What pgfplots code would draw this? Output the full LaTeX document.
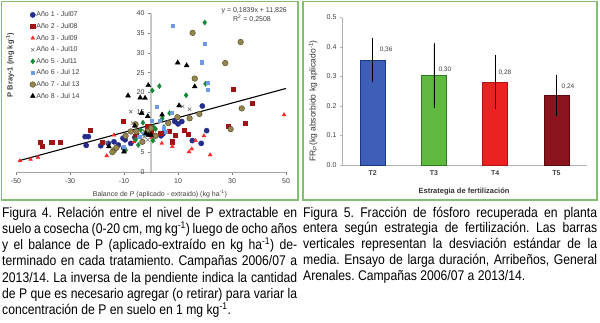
\documentclass[border=0pt]{standalone}
\usepackage{fontspec}
\setmainfont{Liberation Sans}
\newfontfamily\capfont[FakeStretch=0.87]{Liberation Sans}
\usepackage{pgfplots}
\pgfplotsset{compat=1.18}
\definecolor{boxgreen}{RGB}{132,190,112}
\definecolor{aA}{RGB}{35,45,140}
\definecolor{aB}{RGB}{160,20,20}
\definecolor{aC}{RGB}{255,40,40}
\definecolor{aD}{RGB}{120,120,120}
\definecolor{aE}{RGB}{25,135,55}
\definecolor{aF}{RGB}{110,155,225}
\definecolor{aG}{RGB}{150,135,80}
\definecolor{aGd}{RGB}{90,80,45}
\definecolor{bT2}{RGB}{62,95,184}
\definecolor{bT2d}{RGB}{30,55,130}
\definecolor{bT3}{RGB}{95,185,62}
\definecolor{bT3d}{RGB}{45,120,35}
\definecolor{bT4}{RGB}{236,34,34}
\definecolor{bT4d}{RGB}{175,20,20}
\definecolor{bT5}{RGB}{138,20,30}
\definecolor{bT5d}{RGB}{90,10,15}
\newcommand{\capsize}{\capfont\fontsize{14}{16}\selectfont}
\frenchspacing
\begin{document}
\begin{tikzpicture}
\useasboundingbox (0,0) rectangle (600pt,322pt);
\fill[white] (0,0) rectangle (600pt,322pt);
\draw[boxgreen, line width=1.5pt] (1.5pt,122pt) rectangle (298pt,320.5pt);
\draw[boxgreen, line width=1.5pt] (303pt,122pt) rectangle (597pt,320.5pt);

% ---------------- Left chart ----------------
\begin{axis}[
  at={(16pt,150pt)}, anchor=south west,
  scale only axis, width=270pt, height=159pt,
  xmin=-50, xmax=50, ymin=0, ymax=40,
  axis lines=middle, axis line style={-},
  hide obscured x ticks=false, hide obscured y ticks=false,
  x axis line style={gray!70, line width=0.6pt},
  y axis line style={black!22, line width=2pt},
  xtick={-50,-30,-10,10,30,50}, ytick={0,5,10,15,20,25,30,35,40},
  tick style={gray, line width=0.5pt}, major tick length=3pt, tick align=outside,
  ticklabel style={font=\fontsize{7}{8}\selectfont, text=black!75},
  /pgf/number format/assume math mode=true,
  xlabel={Balance de P (aplicado - extraido) (kg ha\textsuperscript{-1})},
  ylabel={\bfseries P Bray-1 (mg kg\textsuperscript{-1})},
  xlabel style={at={(axis description cs:0.533,-0.138)}, anchor=center, font=\fontsize{7}{8}\selectfont, text=black!75},
  ylabel style={at={(axis description cs:-0.022,0.673)}, anchor=center, rotate=90, font=\fontsize{7.5}{8}\selectfont, text=black!75},
  clip=false,
  legend style={at={(axis description cs:0.051,1.013)}, anchor=north west, draw=none, fill=none, inner sep=0pt,
    font=\fontsize{7}{8}\selectfont, text=black!75, row sep=4pt,
    nodes={inner sep=0.8pt, text height=5pt, text depth=1pt}},
  legend cell align=left,
  legend image code/.code={\draw[mark repeat=2,mark phase=2,#1] plot coordinates {(0pt,0pt) (2.5pt,0pt) (5pt,0pt)};},
]
\addplot[only marks, mark=*, mark size=2.6pt, mark options={fill=aA, draw=aA}] coordinates {
(-24.4,8.9) (-23.2,8.9) (-24.0,6.7) (-18.6,6.6) (-15.8,7.2) (-13.7,7.6) (-12.1,6.8) (-10.4,8.5) (-9.6,8.1) (-7.5,7.2) (-6.0,8.7) (3.7,9.1) (4.4,9.6) (8.8,12.7) (10.0,12.1) (11.4,12.7) (19.0,16.6) (20.6,10.4) (15.3,7.9) (18.6,7.2) (-10.1,6.0)};
\addlegendentry{Año 1 - Jul07}
\addplot[only marks, mark=square*, mark size=2.1pt, mark options={fill=aB, draw=aB}] coordinates {
(-41.0,7.4) (-40.2,6.4) (-36.8,7.4) (-33.7,7.4) (-22.6,10.6) (-18.0,7.4) (-10.4,12.7) (-1.2,11.4) (3.6,9.7) (6.7,10.2) (8.9,9.2) (7.9,7.6) (12.2,10.6) (13.7,9.5) (30.5,20.8) (37.5,17.3) (28.6,11.6) (34.8,12.3) (0,9.9) (-5.7,9.1)};
\addlegendentry{Año 2 - Jul08}
\addplot[only marks, mark=triangle*, mark size=2.2pt, mark options={fill=aC, draw=aC}] coordinates {
(-48.6,2.8) (-44.6,3.2) (-41.9,3.7) (-16.4,4.1) (49.3,14.4) (21.9,4.3) (14.1,5.1) (15.1,5.8) (7.9,6.4) (4.0,7.2) (19.6,9.1) (16.5,7.9) (-6.3,7.6) (-13.7,9.3) (0.2,8.7)};
\addlegendentry{Año 3 - Jul09}
\addplot[only marks, mark=x, mark size=2.4pt, mark options={draw=aD, line width=0.6pt}] coordinates {
(-7.5,15.2) (-3.2,14.8) (11.7,16.5) (14.3,15.8) (-6.8,12.3) (-5.7,11.6) (-2.5,8.9) (-1.2,8.1) (-16.5,7.4) (1.1,8.1)};
\addlegendentry{Año 4 - Jul10}
\addplot[only marks, mark=diamond*, mark size=2.6pt, mark options={fill=aE, draw=aE}] coordinates {
(19.9,37.6) (0.5,20.5) (3.1,21.6) (20.2,22.2) (13.0,19.3) (6.9,14.8) (-3.0,12.4) (4.2,13.5) (4.8,11.3) (0.9,11.3) (-3.8,10.6) (-5.7,8.1) (-4.7,6.8) (0.7,7.9) (-9.4,5.5) (1.7,10.8)};
\addlegendentry{Año 5 - Jul11}
\addplot[only marks, mark=square*, mark size=1.6pt, mark options={fill=aF, draw=aF}] coordinates {
(7.9,36.8) (19.9,32.2) (18.8,27.6) (21.0,22.4) (20.9,20.8) (2.0,16.5) (7.7,15.0) (0.4,12.9) (3.2,12.9) (-2.8,9.7) (-4.4,8.9) (-10.2,6.4) (-3.2,7.6) (4.7,11.0) (5.4,10.2)};
\addlegendentry{Año 6 - Jul 12}
\addplot[only marks, mark=*, mark size=2.8pt, mark options={fill=aG, draw=aGd, line width=0.5pt}] coordinates {
(15.4,35.0) (33.2,32.7) (27.5,27.4) (16.2,23.5) (33.6,16.0) (17.9,14.6) (14.3,13.5) (9.8,13.8) (29.5,10.8) (6.4,12.3) (0,11.0) (-9.4,9.1) (-7.5,10.2) (-5.7,12.0) (-13.7,5.5) (-14.3,5.0) (-12.8,6.1) (-5.4,10.2) (-1.4,10.2) (1.7,9.1) (-3.2,7.6)};
\addlegendentry{Año 7 - Jul 13}
\addplot[only marks, mark=triangle*, mark size=2.8pt, mark options={fill=black, draw=black}] coordinates {
(-8.5,19.2) (-1.0,21.8) (-4.0,18.7) (-2.2,18.6) (9.9,27.5) (13.2,26.8) (16.2,21.5) (10.4,16.7) (-3.5,14.8) (-1.2,14.0) (4.1,14.4) (-6.0,11.6) (-15.6,6.4) (-10,5.1) (-1.9,9.7) (-1,9.3) (0,9.3)};
\addlegendentry{Año 8 - Jul 14}
\addplot[black, line width=1.1pt, forget plot] coordinates {(-48.5,2.91) (50,21.02)};
\node[anchor=east, font=\fontsize{7}{8}\selectfont, text=black!75, inner sep=0pt] at (axis description cs:1.004,1.013) {y = 0,1839x + 11,826};
\node[anchor=center, font=\fontsize{7}{8}\selectfont, text=black!75, inner sep=0pt] at (axis description cs:0.874,0.962) {R\textsuperscript{2} = 0,2508};
\end{axis}

% ---------------- Right chart ----------------
\begin{axis}[
  at={(342pt,157pt)}, anchor=south west,
  scale only axis, width=245pt, height=147.5pt,
  xmin=0.5, xmax=4.5, ymin=0, ymax=0.5,
  axis x line=bottom, axis y line=left, axis line style={-, gray!60, line width=0.6pt},
  xtick={1,2,3,4}, xticklabels={T2,T3,T4,T5},
  x tick style={draw=none},
  ytick={0,0.1,0.2,0.3,0.4,0.5},
  y tick style={gray!60}, major tick length=2pt, tick align=outside,
  yticklabel style={/pgf/number format/.cd, fixed, fixed zerofill, precision=1},
  /pgf/number format/assume math mode=true,
  ticklabel style={font=\fontsize{7}{8}\selectfont, text=black!75},
  xticklabel style={font=\bfseries\fontsize{7}{8}\selectfont},
  xlabel={\bfseries Estrategia de fertilización},
  ylabel={FR\textsubscript{P}(kg absorbido kg aplicado\textsuperscript{-1})},
  xlabel style={at={(axis description cs:0.498,-0.183)}, anchor=center, font=\fontsize{7.5}{8}\selectfont, text=black!80},
  ylabel style={at={(axis description cs:-0.118,0.434)}, anchor=center, font=\fontsize{8.5}{9}\selectfont, text=black!80},
  clip=false,
]
\addplot[ybar, bar width=25pt, bar shift=0pt, fill=bT2, draw=bT2d, line width=0.6pt,
  error bars/.cd, y dir=both, y explicit, error bar style={black, line width=0.5pt}, error mark options={black, mark size=1.5pt, line width=0.5pt}]
  coordinates {(1,0.356) +- (0,0.071)};
\addplot[ybar, bar width=25pt, bar shift=0pt, fill=bT3, draw=bT3d, line width=0.6pt,
  error bars/.cd, y dir=both, y explicit, error bar style={black, line width=0.5pt}, error mark options={black, mark size=1.5pt, line width=0.5pt}]
  coordinates {(2,0.303) +- (0,0.105)};
\addplot[ybar, bar width=25pt, bar shift=0pt, fill=bT4, draw=bT4d, line width=0.6pt,
  error bars/.cd, y dir=both, y explicit, error bar style={black, line width=0.5pt}, error mark options={black, mark size=1.5pt, line width=0.5pt}]
  coordinates {(3,0.281) +- (0,0.087)};
\addplot[ybar, bar width=25pt, bar shift=0pt, fill=bT5, draw=bT5d, line width=0.6pt,
  error bars/.cd, y dir=both, y explicit, error bar style={black, line width=0.5pt}, error mark options={black, mark size=1.5pt, line width=0.5pt}]
  coordinates {(4,0.236) +- (0,0.065)};
\node[font=\fontsize{6.5}{7}\selectfont, text=black!75] at (axis cs:1.22,0.39) {0,36};
\node[font=\fontsize{6.5}{7}\selectfont, text=black!75] at (axis cs:2.18,0.324) {0,30};
\node[font=\fontsize{6.5}{7}\selectfont, text=black!75] at (axis cs:3.16,0.314) {0,28};
\node[font=\fontsize{6.5}{7}\selectfont, text=black!75] at (axis cs:4.19,0.267) {0,24};
\end{axis}

% ---------------- Captions ----------------
\begin{scope}[every node/.style={anchor=base west, inner sep=0pt, font=\capsize, text=black}]
\node at (2pt,105pt) {\makebox[295pt][s]{Figura 4. Relación entre el nivel de P extractable en}};
\node at (2pt,88.7pt) {\makebox[295pt][s]{suelo a cosecha (0-20 cm, mg kg\textsuperscript{-1}) luego de ocho años}};
\node at (2pt,72.4pt) {\makebox[295pt][s]{y el balance de P (aplicado-extraído en kg ha\textsuperscript{-1}) de-}};
\node at (2pt,56.1pt) {\makebox[295pt][s]{terminado en cada tratamiento. Campañas 2006/07 a}};
\node at (2pt,39.8pt) {\makebox[295pt][s]{2013/14. La inversa de la pendiente indica la cantidad}};
\node at (2pt,23.5pt) {\makebox[295pt][s]{de P que es necesario agregar (o retirar) para variar la}};
\node at (2pt,7.2pt) {concentración de P en suelo en 1 mg kg\textsuperscript{-1}.};
\node at (303pt,105pt) {\makebox[294pt][s]{Figura 5. Fracción de fósforo recuperada en planta}};
\node at (303pt,89.2pt) {\makebox[294pt][s]{entera según estrategia de fertilización. Las barras}};
\node at (303pt,73.4pt) {\makebox[294pt][s]{verticales representan la desviación estándar de la}};
\node at (303pt,57.6pt) {\makebox[294pt][s]{media. Ensayo de larga duración, Arribeños, General}};
\node at (303pt,41.8pt) {Arenales. Campañas 2006/07 a 2013/14.};
\end{scope}
\end{tikzpicture}
\end{document}
